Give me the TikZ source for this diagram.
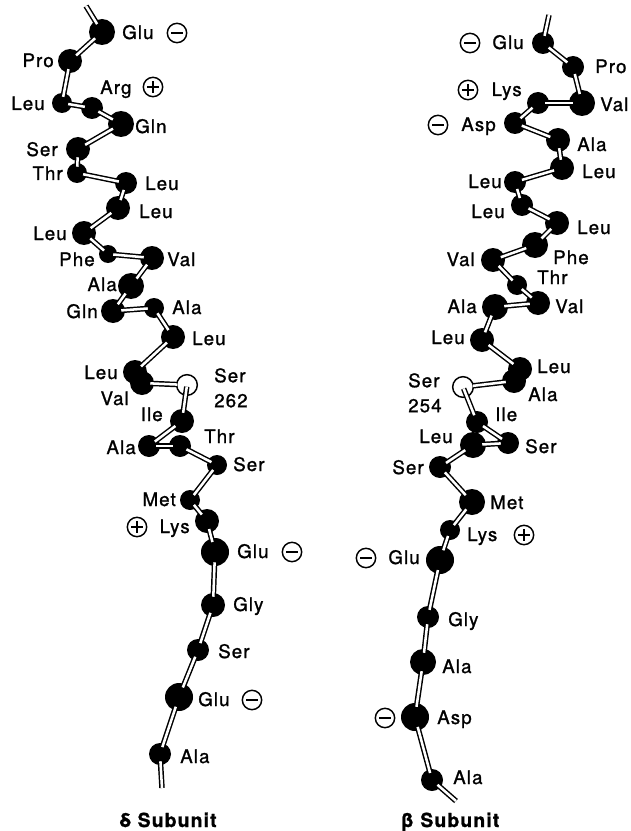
\documentclass[tikz,border=0pt]{standalone}
\usepackage{fontspec}
\setmainfont{TeX Gyre Heros}[LetterSpace=6,FakeBold=1.2]
\begin{document}
\begin{tikzpicture}[x=0.75pt,y=-0.75pt,
  ball/.style={circle,fill=black,inner sep=0pt,minimum size=#1*1.5pt},
  openball/.style={circle,draw=black,fill=white,line width=1.1pt,inner sep=0pt,minimum size=#1*1.5pt-1pt},
  stick/.style={line width=1.1pt,double=white,double distance=1.9pt,shorten <=-3pt,shorten >=-3pt},
  stub/.style={stick,shorten <=0pt},
  lab/.style={inner sep=0pt,font=\fontsize{14}{18.75}\selectfont},
  lw/.style={lab,anchor=base west},
  le/.style={lab,anchor=base east},
  title/.style={lab,anchor=base,font=\fontsize{14.5}{16}\selectfont\bfseries},
  charge/.style={circle,draw,line width=1.1pt,inner sep=0pt,minimum size=14.5pt},
  negcharge/.style={charge,path picture={\draw[line width=1.1pt]
      ([xshift=-4.2pt]path picture bounding box.center) -- ([xshift=4.2pt]path picture bounding box.center);}},
  poscharge/.style={charge,path picture={\draw[line width=1.1pt]
      ([xshift=-4.2pt]path picture bounding box.center) -- ([xshift=4.2pt]path picture bounding box.center)
      ([yshift=-4.2pt]path picture bounding box.center) -- ([yshift=4.2pt]path picture bounding box.center);}}
]
\useasboundingbox (0,0) rectangle (631,831);

% ---------------- delta subunit: residues ----------------
\coordinate (dtop) at (86,6);
\coordinate (dbot) at (162,788);
\node[ball=13] (d1)  at (102,32)  {};
\node[ball=12] (d2)  at (70,61)   {};
\node[ball=10] (d3)  at (62,103)  {};
\node[ball=11] (d4)  at (92,108)  {};
\node[ball=13] (d5)  at (121,124) {};
\node[ball=12] (d6)  at (78,149)  {};
\node[ball=10] (d7)  at (77,173)  {};
\node[ball=11] (d8)  at (126,183) {};
\node[ball=12] (d9)  at (118,208) {};
\node[ball=12] (d10) at (84,233)  {};
\node[ball=9]  (d11) at (108,254) {};
\node[ball=12] (d12) at (152,258) {};
\node[ball=13] (d13) at (131,286) {};
\node[ball=12] (d14) at (113,311) {};
\node[ball=10] (d15) at (154,308) {};
\node[ball=12] (d16) at (173,337) {};
\node[ball=12] (d17) at (135,372) {};
\node[ball=12] (d18) at (142,383) {};
\node[openball=11] (d19) at (187,385) {};
\node[ball=12] (d20) at (182,421) {};
\node[ball=11] (d21) at (149,446) {};
\node[ball=11] (d22) at (180,446) {};
\node[ball=10] (d23) at (217,465) {};
\node[ball=10] (d24) at (190,500) {};
\node[ball=12] (d25) at (207,521) {};
\node[ball=14] (d26) at (215,552) {};
\node[ball=12] (d27) at (213,605) {};
\node[ball=11] (d28) at (198,650) {};
\node[ball=14] (d29) at (179,697) {};
\node[ball=11] (d30) at (160,754) {};

% backbone sticks
\draw[stub] (dtop) -- (d1);
\foreach \a/\b in {1/2,2/3,3/4,4/5,5/6,6/7,7/8,8/9,9/10,10/11,11/12,12/13,13/14,14/15,15/16,16/17,
                   20/21,21/22,22/23,23/24,24/25,25/26,26/27,27/28,28/29,29/30}
  \draw[stick] (d\a) -- (d\b);
\draw[stick,shorten >=-1pt] (d18) -- (d19);
\draw[stick,shorten <=-7pt] (d19) -- (d20);
\draw[stub] (dbot) -- (d30);

% residue labels
\node[lw] (ld1)  at (122,39)  {Glu};
\node[negcharge] (cd1) at (177,33)  {};
\node[le] (ld2)  at (54,67)   {Pro};
\node[le] (ld3)  at (45,110)  {Leu};
\node[lw] (ld4)  at (100,94)  {Arg};
\node[poscharge] (cd4) at (153,87)  {};
\node[lw] (ld5)  at (135,133) {Gln};
\node[le] (ld6)  at (58,156)  {Ser};
\node[le] (ld7)  at (63,180)  {Thr};
\node[lw] (ld8)  at (145,190) {Leu};
\node[lw] (ld9)  at (139,218) {Leu};
\node[le] (ld10) at (67,240)  {Leu};
\node[le] (ld11) at (95,266)  {Phe};
\node[lw] (ld12) at (167,266) {Val};
\node[le] (ld13) at (117,291) {Ala};
\node[le] (ld14) at (98,318)  {Gln};
\node[lw] (ld15) at (172,314) {Ala};
\node[lw] (ld16) at (192,345) {Leu};
\node[le] (ld17) at (118,379) {Leu};
\node[le] (ld18) at (129,405) {Val};
\node[lab,anchor=north west,align=left] (ld19) at (214,368) {Ser\\262};
\node[le] (ld20) at (163,421) {Ile};
\node[le] (ld21) at (136,454) {Ala};
\node[lw] (ld22) at (204,443) {Thr};
\node[lw] (ld23) at (233,471) {Ser};
\node[le] (ld24) at (176,506) {Met};
\node[le] (ld25) at (190,533) {Lys};
\node[poscharge] (cd25) at (137,527) {};
\node[lw] (ld26) at (237,558) {Glu};
\node[negcharge] (cd26) at (292,552) {};
\node[lw] (ld27) at (233,611) {Gly};
\node[lw] (ld28) at (218,658) {Ser};
\node[lw] (ld29) at (198,706) {Glu};
\node[negcharge] (cd29) at (252,700) {};
\node[lw] (ld30) at (180,763) {Ala};
\node[title] (tdelta) at (168,827) {δ Subunit};

% ---------------- beta subunit: residues ----------------
\coordinate (btop) at (549,15);
\coordinate (bbot) at (456,801);
\node[ball=11] (b1)  at (543,43)  {};
\node[ball=11] (b2)  at (573,67)  {};
\node[ball=13] (b3)  at (582,103) {};
\node[ball=11] (b4)  at (538,103) {};
\node[ball=11] (b5)  at (515,123) {};
\node[ball=12] (b6)  at (558,140) {};
\node[ball=12] (b7)  at (562,168) {};
\node[ball=11] (b8)  at (515,182) {};
\node[ball=11] (b9)  at (522,205) {};
\node[ball=12] (b10) at (557,223) {};
\node[ball=13] (b11) at (535,245) {};
\node[ball=12] (b12) at (493,260) {};
\node[ball=10] (b13) at (517,285) {};
\node[ball=12] (b14) at (538,303) {};
\node[ball=13] (b15) at (495,307) {};
\node[ball=12] (b16) at (482,340) {};
\node[ball=12] (b17) at (520,369) {};
\node[ball=12] (b18) at (514,381) {};
\node[openball=11] (b19) at (463,387) {};
\node[ball=11] (b20) at (477,422) {};
\node[ball=11] (b21) at (508,443) {};
\node[ball=13] (b22) at (473,445) {};
\node[ball=11] (b23) at (440,467) {};
\node[ball=13] (b24) at (472,502) {};
\node[ball=10] (b25) at (450,530) {};
\node[ball=14] (b26) at (440,560) {};
\node[ball=11] (b27) at (428,617) {};
\node[ball=13] (b28) at (423,662) {};
\node[ball=14] (b29) at (415,717) {};
\node[ball=11] (b30) at (432,780) {};

% backbone sticks
\draw[stub] (btop) -- (b1);
\foreach \a/\b in {1/2,2/3,3/4,4/5,5/6,6/7,7/8,8/9,9/10,10/11,11/12,12/13,13/14,14/15,15/16,16/17,
                   20/21,21/22,22/23,23/24,24/25,25/26,26/27,27/28,28/29,29/30}
  \draw[stick] (b\a) -- (b\b);
\draw[stick,shorten >=-1pt] (b18) -- (b19);
\draw[stick,shorten <=-7pt] (b19) -- (b20);
\draw[stub] (bbot) -- (b30);

% residue labels
\node[le] (lb1)  at (524,49)  {Glu};
\node[negcharge] (cb1) at (470,43)  {};
\node[lw] (lb2)  at (595,73)  {Pro};
\node[lw] (lb3)  at (600,111) {Val};
\node[le] (lb4)  at (522,96)  {Lys};
\node[poscharge] (cb4) at (468,90)  {};
\node[le] (lb5)  at (496,131) {Asp};
\node[negcharge] (cb5) at (438,125) {};
\node[lw] (lb6)  at (577,151) {Ala};
\node[lw] (lb7)  at (582,178) {Leu};
\node[le] (lb8)  at (502,188) {Leu};
\node[le] (lb9)  at (505,218) {Leu};
\node[lw] (lb10) at (577,234) {Leu};
\node[lw] (lb11) at (553,264) {Phe};
\node[le] (lb12) at (475,266) {Val};
\node[lw] (lb13) at (537,284) {Thr};
\node[lw] (lb14) at (555,313) {Val};
\node[le] (lb15) at (477,313) {Ala};
\node[le] (lb16) at (465,344) {Leu};
\node[lw] (lb17) at (537,373) {Leu};
\node[lw] (lb18) at (528,401) {Ala};
\node[lab,anchor=north west,align=left] (lb19) at (408,373) {Ser\\254};
\node[lw] (lb20) at (495,421) {Ile};
\node[lw] (lb21) at (525,453) {Ser};
\node[le] (lb22) at (453,443) {Leu};
\node[le] (lb23) at (424,474) {Ser};
\node[lw] (lb24) at (490,509) {Met};
\node[lw] (lb25) at (467,541) {Lys};
\node[poscharge] (cb25) at (524,535) {};
\node[le] (lb26) at (420,564) {Glu};
\node[negcharge] (cb26) at (366,558) {};
\node[lw] (lb27) at (448,626) {Gly};
\node[lw] (lb28) at (442,673) {Ala};
\node[lw] (lb29) at (437,724) {Asp};
\node[negcharge] (cb29) at (385,718) {};
\node[lw] (lb30) at (453,784) {Ala};
\node[title] (tbeta) at (450,827) {β Subunit};
\end{tikzpicture}
\end{document}
